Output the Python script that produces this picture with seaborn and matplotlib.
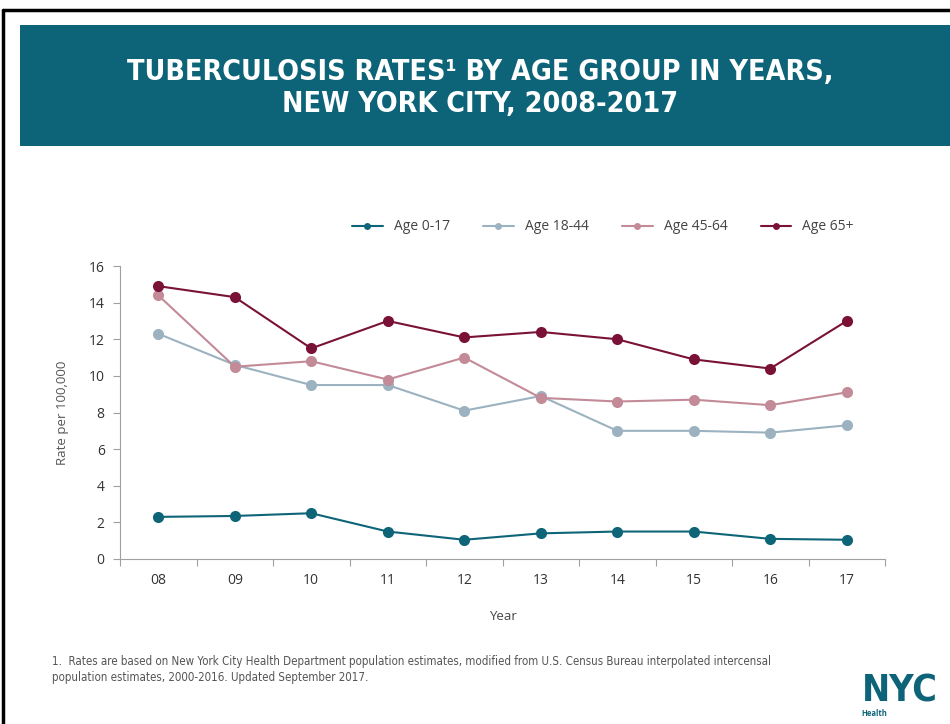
import matplotlib
matplotlib.use("Agg")
import matplotlib.pyplot as plt
from matplotlib.patches import Rectangle
from matplotlib.lines import Line2D
import numpy as np
import pandas as pd
import seaborn as sns

# Rates per 100,000 by age group, 2008-2017
years = ["08", "09", "10", "11", "12", "13", "14", "15", "16", "17"]
age_0_17 = [2.3, 2.35, 2.5, 1.5, 1.05, 1.4, 1.5, 1.5, 1.1, 1.05]
age_18_44 = [12.3, 10.6, 9.5, 9.5, 8.1, 8.9, 7.0, 7.0, 6.9, 7.3]
age_45_64 = [14.4, 10.5, 10.8, 9.8, 11.0, 8.8, 8.6, 8.7, 8.4, 9.1]
age_65_plus = [14.9, 14.3, 11.5, 13.0, 12.1, 12.4, 12.0, 10.9, 10.4, 13.0]
groups = ["Age 0-17", "Age 18-44", "Age 45-64", "Age 65+"]
colors = ["#0e6577", "#9cb2c0", "#c38a98", "#7a1237"]

series = [age_0_17, age_18_44, age_45_64, age_65_plus]
df = pd.DataFrame({
    "pos": np.tile(np.arange(len(years)), len(groups)),
    "rate": np.concatenate(series),
    "group": np.repeat(groups, len(years)),
})

sns.set_theme(style="white")
plt.rcParams["font.family"] = ["Open Sans", "DejaVu Sans"]

narrow = ["DejaVu Sans"]

fig = plt.figure(figsize=(9.5, 7.24), dpi=100)
W, H = 950, 724

# page frame
fig.add_artist(Line2D([3 / W, 3 / W], [0, 1 - 10 / H], color="black", lw=2.5))
fig.add_artist(Line2D([3 / W, 1], [1 - 10 / H, 1 - 10 / H], color="black", lw=2.5))

# title banner
fig.add_artist(Rectangle((20 / W, 1 - 146 / H), 1 - 20 / W, 121 / H,
                         facecolor="#0d6478", edgecolor="none"))
for y, line in [(72, "TUBERCULOSIS RATES\u00b9 BY AGE GROUP IN YEARS,"),
                (104, "NEW YORK CITY, 2008-2017")]:
    fig.text(480 / W, 1 - y / H, line, ha="center", va="center",
             color="white", fontsize=20.5, fontweight="bold",
             family=narrow, fontstretch="condensed")

ax = fig.add_axes([120 / W, 1 - 559 / H, 765 / W, 293 / H])
sns.lineplot(data=df, x="pos", y="rate", hue="group", palette=colors,
             marker="o", markersize=8, markeredgewidth=0, linewidth=1.5,
             ax=ax, legend=False)

ax.set_xlim(-0.5, len(years) - 0.5)
ax.set_ylim(0, 16)
ax.set_yticks(np.arange(0, 17, 2))
ax.set_xticks(np.arange(len(years)))
ax.set_xticklabels(years)
ax.set_xticks(np.arange(-0.5, len(years)), minor=True)
ax.tick_params(axis="x", which="major", length=0, pad=10, labelsize=10,
               labelcolor="#333333")
ax.tick_params(axis="x", which="minor", length=5, color="#a0a0a0", width=0.8,
               bottom=True)
ax.tick_params(axis="y", which="major", length=5, color="#a0a0a0", width=0.8,
               left=True, labelsize=10, labelcolor="#333333", pad=6)
for s in ["top", "right"]:
    ax.spines[s].set_visible(False)
for s in ["left", "bottom"]:
    ax.spines[s].set_color("#a0a0a0")
    ax.spines[s].set_linewidth(0.8)
ax.set_xlabel("Year", fontsize=9.5, color="#444444", labelpad=16)
ax.set_ylabel("Rate per 100,000", fontsize=9.5, color="#555555", labelpad=14)

handles = [Line2D([0], [0], color=c, lw=1.5, marker="o", markersize=5,
                  markeredgewidth=0) for c in colors]
fig.legend(handles, groups, loc="center", bbox_to_anchor=(603 / W, 1 - 227 / H),
           ncol=4, frameon=False, fontsize=10, handlelength=2.2,
           columnspacing=2.4, labelcolor="#444444")

for y, line in [(661, "1.  Rates are based on New York City Health Department "
                      "population estimates, modified from U.S. Census Bureau "
                      "interpolated intercensal"),
                (678, "population estimates, 2000-2016. Updated September 2017.")]:
    fig.text(52 / W, 1 - y / H, line, fontsize=8.3, color="#555555",
             va="center", family=narrow, fontstretch="condensed")

# NYC Health wordmark
fig.text(900 / W, 1 - 691 / H, "NYC", fontsize=27, fontweight="heavy",
         color="#0d6478", ha="center", va="center", family=narrow,
         fontstretch="condensed")
fig.text(861 / W, 1 - 713 / H, "Health", fontsize=5.5, fontweight="bold",
         color="#0d6478", ha="left", va="center")

fig.savefig("out.png", dpi=100)
